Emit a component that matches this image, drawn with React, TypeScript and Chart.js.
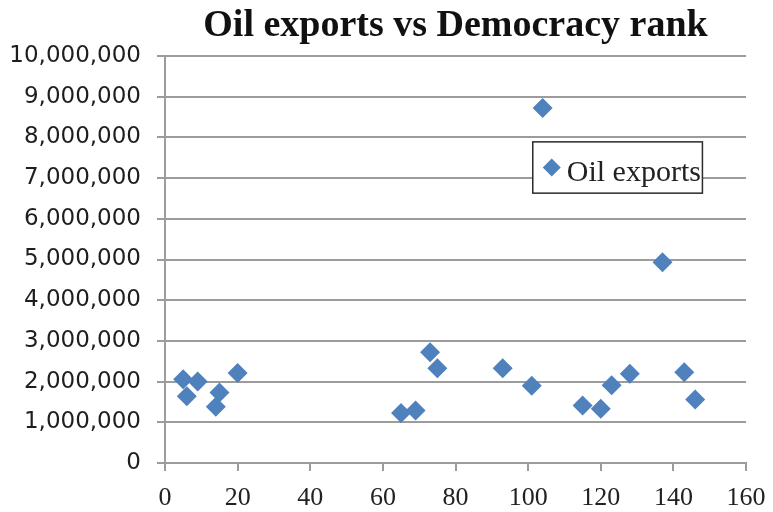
import React, { useEffect, useRef } from "react";
import { Chart, registerables } from "chart.js";

Chart.register(...registerables);

// Democracy rank of each oil-exporting country and its oil exports (barrels/day)
const democracyRank = [5, 6, 9, 14, 15, 20, 65, 69, 73, 75, 93, 101, 104, 115, 120, 123, 128, 137, 143, 146];
const oilExports = [
  2060000, 1640000, 2000000, 1380000, 1730000, 2210000, 1230000, 1290000, 2720000, 2330000,
  2330000, 1900000, 8720000, 1410000, 1330000, 1910000, 2190000, 4930000, 2230000, 1560000,
];

const seriesName = "Oil exports";
const chartTitle = "Oil exports vs Democracy rank";
const xTicks = [0, 20, 40, 60, 80, 100, 120, 140, 160];
const yMax = 10000000;
const yStep = 1000000;

const markerColor = "#4F81BD";
const gridColor = "#9c9c9c";
const textColor = "#222222";

// Boxed legend drawn inside the plot area, placed relative to the chart area
const insetLegend = {
  id: "insetLegend",
  afterDraw(chart: any) {
    const { ctx, chartArea } = chart;
    const w = chartArea.right - chartArea.left;
    const h = chartArea.bottom - chartArea.top;
    const left = chartArea.left + w * 0.633;
    const right = chartArea.left + w * 0.925;
    const top = chartArea.top + h * 0.211;
    const bottom = chartArea.top + h * 0.337;
    const ds = chart.data.datasets[0];
    ctx.save();
    ctx.fillStyle = "#ffffff";
    ctx.fillRect(left, top, right - left, bottom - top);
    ctx.strokeStyle = "#2a2a2a";
    ctx.lineWidth = 1.5;
    ctx.strokeRect(left, top, right - left, bottom - top);
    const cy = (top + bottom) / 2;
    const cx = left + 19;
    const r = 9;
    ctx.beginPath();
    ctx.moveTo(cx, cy - r);
    ctx.lineTo(cx + r, cy);
    ctx.lineTo(cx, cy + r);
    ctx.lineTo(cx - r, cy);
    ctx.closePath();
    ctx.fillStyle = ds.backgroundColor;
    ctx.fill();
    ctx.fillStyle = textColor;
    ctx.font = "30px 'Liberation Serif'";
    ctx.textBaseline = "alphabetic";
    ctx.textAlign = "left";
    ctx.fillText(ds.label, cx + 15, cy + 13);
    ctx.restore();
  },
};

export default function App() {
  const canvasRef = useRef<HTMLCanvasElement | null>(null);

  useEffect(() => {
    if (!canvasRef.current) return;
    const chart = new Chart(canvasRef.current, {
      type: "scatter",
      data: {
        datasets: [
          {
            label: seriesName,
            data: democracyRank.map((x, i) => ({ x, y: oilExports[i] })),
            backgroundColor: markerColor,
            borderColor: markerColor,
            pointStyle: "rectRot",
            pointRadius: 10,
            pointHoverRadius: 10,
            borderWidth: 0,
          },
        ],
      },
      options: {
        responsive: false,
        animation: false,
        layout: { padding: { left: 0, right: 27, top: 0, bottom: 0 } },
        plugins: {
          legend: { display: false },
          tooltip: { enabled: false },
          title: {
            display: true,
            text: chartTitle,
            fullSize: false,
            color: "#111111",
            font: { family: "'Liberation Serif'", size: 38, weight: "bold", lineHeight: 1.2 },
            padding: { top: 3, bottom: 7.4 },
          },
        },
        scales: {
          x: {
            type: "linear",
            min: 0,
            max: 160,
            afterBuildTicks: (scale: any) => {
              scale.ticks = xTicks.map((v) => ({ value: v }));
            },
            afterFit: (scale: any) => {
              scale.height = 49;
              scale.paddingLeft = 0;
              scale.paddingRight = 0;
            },
            grid: {
              drawOnChartArea: false,
              drawTicks: true,
              tickLength: 8,
              color: gridColor,
              lineWidth: 2,
            },
            border: { display: true, color: gridColor, width: 2 },
            ticks: {
              color: textColor,
              padding: 12,
              maxRotation: 0,
              font: { family: "'Liberation Serif'", size: 26 },
            },
          },
          y: {
            type: "linear",
            min: 0,
            max: yMax,
            afterFit: (scale: any) => {
              scale.width = 165;
            },
            grid: {
              drawOnChartArea: true,
              drawTicks: true,
              tickLength: 8,
              color: gridColor,
              lineWidth: 2,
            },
            border: { display: true, color: gridColor, width: 2 },
            ticks: {
              stepSize: yStep,
              color: "#1e1e1e",
              padding: 16,
              font: { family: "'DejaVu Sans'", size: 23 },
              callback: (v: any) => Number(v).toLocaleString("en-US"),
            },
          },
        },
      },
      plugins: [insetLegend],
    });
    return () => chart.destroy();
  }, []);

  return (
    <div style={{ position: "fixed", left: 0, top: 0, width: 773, height: 512, background: "#ffffff" }}>
      <canvas ref={canvasRef} width={773} height={512} />
    </div>
  );
}
